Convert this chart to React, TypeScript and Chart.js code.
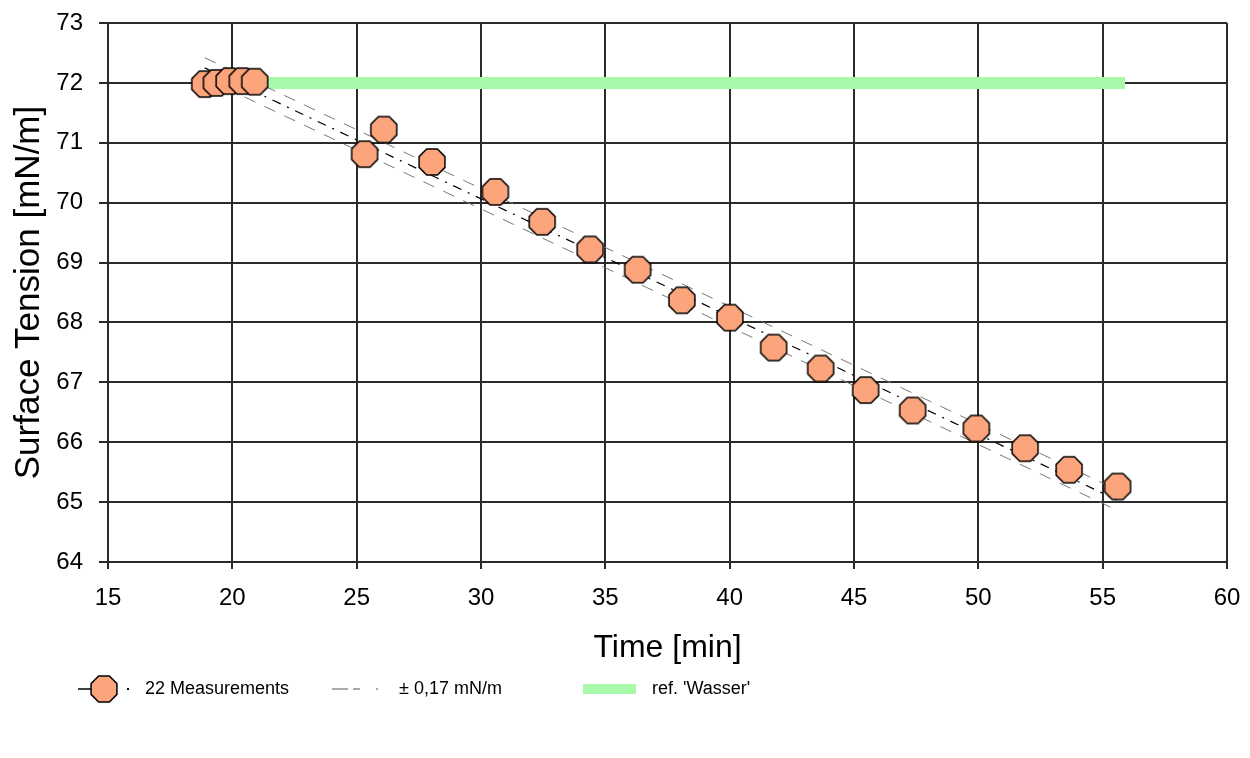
import React, { useEffect, useRef } from "react";
import { Chart, registerables } from "chart.js";

Chart.register(...registerables);

// ---- data ----
const measTime = [18.89, 19.36, 19.87, 20.4, 20.9, 25.32, 26.09, 28.03, 30.58, 32.46, 34.39, 36.3, 38.08, 40.01, 41.77, 43.66, 45.47, 47.36, 49.92, 51.88, 53.65, 55.6];
const measTension = [71.98, 72.0, 72.03, 72.03, 72.02, 70.81, 71.22, 70.68, 70.18, 69.68, 69.22, 68.88, 68.37, 68.08, 67.58, 67.23, 66.87, 66.53, 66.23, 65.9, 65.54, 65.26];
const fitTime = [18.89, 55.6];
const fitTension = [72.25, 65.03];
const upperTension = [72.42, 65.2];
const lowerTension = [72.08, 64.86];
const refTime = [20.9, 55.9];
const refTension = [72.0, 72.0];
const xTickValues = [15, 20, 25, 30, 35, 40, 45, 50, 55, 60];
const yTickValues = [64, 65, 66, 67, 68, 69, 70, 71, 72, 73];
const legendLabels = ["22 Measurements", "\u00B1 0,17 mN/m", "ref. 'Wasser'"];
const xTitle = "Time [min]";
const yTitle = "Surface Tension [mN/m]";

const FONT = "Arial, 'Liberation Sans', sans-serif";
const MARKER_FILL = "#fca57c";
const REF_GREEN = "#aaf8aa";
const GRID = "#2b2b2b";

function makeOctagon(r: number): HTMLCanvasElement {
  const size = Math.ceil(r * 2 + 4);
  const c = document.createElement("canvas");
  c.width = size;
  c.height = size;
  const ctx = c.getContext("2d")!;
  const cx = size / 2;
  const cy = size / 2;
  ctx.beginPath();
  for (let k = 0; k < 8; k++) {
    const a = ((22.5 + 45 * k) * Math.PI) / 180;
    const px = cx + r * Math.cos(a);
    const py = cy + r * Math.sin(a);
    if (k === 0) ctx.moveTo(px, py);
    else ctx.lineTo(px, py);
  }
  ctx.closePath();
  ctx.fillStyle = MARKER_FILL;
  ctx.fill();
  ctx.lineWidth = 1.5;
  ctx.strokeStyle = "#000";
  ctx.stroke();
  return c;
}

export default function App() {
  const ref = useRef<HTMLCanvasElement | null>(null);

  useEffect(() => {
    if (!ref.current) return;
    const octa = makeOctagon(14);

    const legendPlugin = {
      id: "customLegend",
      afterDraw(chart: any) {
        const ctx = chart.ctx as CanvasRenderingContext2D;
        const y = 681;
        ctx.save();
        // item 1
        ctx.strokeStyle = "#000";
        ctx.lineWidth = 1.5;
        ctx.beginPath();
        ctx.moveTo(70, y);
        ctx.lineTo(96, y);
        ctx.stroke();
        ctx.drawImage(octa, 96 - octa.width / 2, y - octa.height / 2);
        ctx.fillStyle = "#000";
        ctx.fillRect(119, y - 1, 2, 2);
        // item 2
        ctx.strokeStyle = "#555";
        ctx.lineWidth = 1;
        ctx.beginPath();
        ctx.moveTo(324, y);
        ctx.lineTo(340, y);
        ctx.moveTo(345, y);
        ctx.lineTo(352, y);
        ctx.moveTo(368, y);
        ctx.lineTo(370, y);
        ctx.stroke();
        // item 3
        ctx.fillStyle = REF_GREEN;
        ctx.fillRect(575, y - 5, 53, 10);
        // texts
        ctx.fillStyle = "#000";
        ctx.font = `18px ${FONT}`;
        ctx.textBaseline = "middle";
        ctx.textAlign = "left";
        ctx.fillText(legendLabels[0], 137, y);
        ctx.fillText(legendLabels[1], 391, y);
        ctx.fillText(legendLabels[2], 644, y);
        ctx.restore();
      },
    };

    const chart = new Chart(ref.current, {
      type: "scatter",
      data: {
        datasets: [
          {
            label: legendLabels[0],
            data: measTime.map((t, i) => ({ x: t, y: measTension[i] })),
            pointStyle: octa as any,
            pointRadius: 14,
            showLine: false,
            order: 0,
          },
          {
            label: "fit",
            data: fitTime.map((t, i) => ({ x: t, y: fitTension[i] })),
            showLine: true,
            borderColor: "#000",
            borderWidth: 1.2,
            borderDash: [9, 7, 2, 7],
            pointRadius: 0,
            order: 1,
          },
          {
            label: "upper",
            data: fitTime.map((t, i) => ({ x: t, y: upperTension[i] })),
            showLine: true,
            borderColor: "#777",
            borderWidth: 1,
            borderDash: [12, 10],
            pointRadius: 0,
            order: 2,
          },
          {
            label: "lower",
            data: fitTime.map((t, i) => ({ x: t, y: lowerTension[i] })),
            showLine: true,
            borderColor: "#777",
            borderWidth: 1,
            borderDash: [12, 10],
            pointRadius: 0,
            order: 2,
          },
          {
            label: legendLabels[2],
            data: refTime.map((t, i) => ({ x: t, y: refTension[i] })),
            showLine: true,
            borderColor: REF_GREEN,
            borderWidth: 12,
            borderCapStyle: "butt",
            pointRadius: 0,
            order: 3,
          },
        ],
      },
      options: {
        animation: false,
        responsive: false,
        layout: { padding: { left: 0, right: 13, top: 14, bottom: 83 } },
        plugins: {
          legend: { display: false },
          tooltip: { enabled: false },
        },
        scales: {
          x: {
            type: "linear",
            min: 15,
            max: 60,
            afterBuildTicks: (scale: any) => {
              scale.ticks = xTickValues.map((v) => ({ value: v }));
            },
            afterFit: (scale: any) => {
              scale.height = 105;
              scale.paddingLeft = 0;
              scale.paddingRight = 0;
            },
            ticks: {
              color: "#000",
              font: { family: FONT, size: 24 },
              padding: 15,
              maxRotation: 0,
              autoSkip: false,
            },
            grid: { color: GRID, lineWidth: 2, tickLength: 7 },
            border: { color: GRID, width: 2 },
            title: {
              display: true,
              text: xTitle,
              color: "#000",
              font: { family: FONT, size: 32 },
              padding: 0,
            },
          },
          y: {
            type: "linear",
            min: 64,
            max: 73,
            afterBuildTicks: (scale: any) => {
              scale.ticks = yTickValues.map((v) => ({ value: v }));
            },
            afterFit: (scale: any) => {
              scale.width = 100;
              scale.paddingTop = 0;
              scale.paddingBottom = 0;
            },
            ticks: {
              color: "#000",
              font: { family: FONT, size: 24 },
              padding: 16,
              autoSkip: false,
            },
            grid: { color: GRID, lineWidth: 2, tickLength: 9 },
            border: { color: GRID, width: 2 },
            title: {
              display: true,
              text: yTitle,
              color: "#000",
              font: { family: FONT, size: 35 },
              padding: 0,
            },
          },
        },
      },
      plugins: [legendPlugin],
    });

    return () => chart.destroy();
  }, []);

  return (
    <div style={{ width: 1234, height: 742 }}>
      <canvas ref={ref} width={1234} height={742} style={{ display: "block" }} />
    </div>
  );
}
